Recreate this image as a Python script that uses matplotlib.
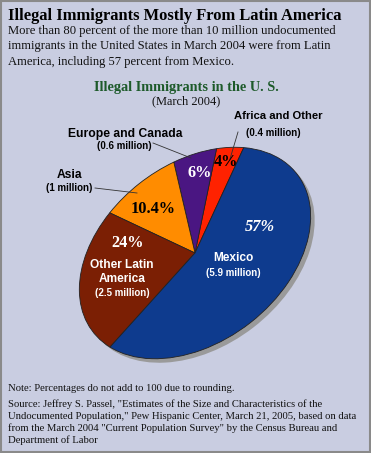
import matplotlib
matplotlib.use('Agg')
import matplotlib.pyplot as plt
from matplotlib.transforms import Affine2D
from matplotlib.patches import Ellipse, Rectangle

# data (counterclockwise from the Africa/Mexico boundary)
regions = ['Africa and Other', 'Europe and Canada', 'Asia', 'Other Latin America', 'Mexico']
shares = [4, 6, 10.4, 24, 57]
millions = ['0.4 million', '0.6 million', '1 million', '2.5 million', '5.9 million']
pct_labels = ['4%', '6%', '10.4%', '24%', '57%']
colors = ['#ff2200', '#4a1682', '#ff8c00', '#7b1f04', '#0e3b8e']

W, H = 371, 453
bg = '#c9cde1'

fig = plt.figure(figsize=(W / 100, H / 100), dpi=100, facecolor=bg)
ax = fig.add_axes([0, 0, 1, 1])

# pie drawn on the unit circle, then squashed and tilted into an ellipse
cx, cy = 195, H - 253
a, b, tilt = 129, 89, 37.7
wedges, _ = ax.pie(shares, colors=colors, startangle=37, counterclock=True,
                   wedgeprops=dict(linewidth=0.6, edgecolor='#222222'))
ax.set_xlim(0, W)
ax.set_ylim(0, H)
ax.set_aspect('auto')
ax.axis('off')
ax.set_facecolor(bg)

for w in wedges:
    shape = Affine2D().scale(a, b).rotate_deg(tilt).translate(cx, cy)
    w.set_transform(shape + ax.transData)
    w.set_zorder(3)

shadow = Ellipse((cx + 4, cy - 4), 2 * a, 2 * b, angle=tilt,
                 facecolor='#9a9a9a', edgecolor='none', zorder=2)
ax.add_patch(shadow)

# border
ax.add_patch(Rectangle((0.75, 0.75), W - 1.5, H - 1.5, fill=False,
                       edgecolor='#8a8a8a', linewidth=1.5, zorder=10))

serif = 'Liberation Serif'
sans = 'Liberation Sans'

def Y(y):
    return H - y

ax.text(8, Y(20), 'Illegal Immigrants Mostly From Latin America', family=serif,
        fontweight='bold', fontsize=11.9, va='baseline', color='black')
body = ['More than 80 percent of the more than 10 million undocumented',
        'immigrants in the United States in March 2004 were from Latin',
        'America, including 57 percent from Mexico.']
for i, line in enumerate(body):
    ax.text(8, Y(34 + 15.5 * i), line, family=serif, fontsize=9.05, va='baseline', color='#111111')

ax.text(186, Y(88), 'Illegal Immigrants in the U. S.', family=serif, fontweight='bold',
        fontsize=10.3, ha='center', va='center', color='#1d5a2a')
ax.text(186, Y(101), '(March 2004)', family=serif, fontsize=8.9, ha='center', va='center',
        color='#111111')

# outside labels
ax.text(278, Y(116), regions[0], family=sans, fontweight='bold', fontsize=8.1,
        ha='center', va='center')
ax.text(273, Y(133), '(' + millions[0] + ')', family=sans, fontweight='bold', fontsize=7,
        ha='center', va='center')
ax.text(125, Y(134), regions[1], family=sans, fontweight='bold', fontsize=8.7,
        ha='center', va='center')
ax.text(124, Y(146), '(' + millions[1] + ')', family=sans, fontweight='bold', fontsize=7,
        ha='center', va='center')
ax.text(70, Y(175), regions[2], family=sans, fontweight='bold', fontsize=8.7,
        ha='center', va='center')
ax.text(69, Y(188), '(' + millions[2] + ')', family=sans, fontweight='bold', fontsize=7,
        ha='center', va='center')

# leader lines
ax.plot([238, 230], [Y(132), Y(159)], color='#333333', lw=0.6, zorder=4)
ax.plot([153, 191], [Y(143), Y(158)], color='#333333', lw=0.6, zorder=4)
ax.plot([95, 137], [Y(188), Y(193)], color='#333333', lw=0.6, zorder=4)

# percent labels on slices
pct_pos = [(226, 162), (200, 173), (153, 209), (128, 243), (260, 227)]
pct_col = ['black', 'white', 'black', 'white', 'white']
for (px, py), t, c in zip(pct_pos, pct_labels, pct_col):
    ax.text(px, Y(py), t, family=serif, fontweight='bold', fontsize=11.8, ha='center',
            va='center', color=c, zorder=5,
            fontstyle='italic' if t == '57%' else 'normal')

ax.text(122, Y(265), 'Other Latin', family=sans, fontweight='bold', fontsize=8.6,
        ha='center', va='center', color='white', zorder=5)
ax.text(122, Y(279), 'America', family=sans, fontweight='bold', fontsize=8.6,
        ha='center', va='center', color='white', zorder=5)
ax.text(122, Y(293), '(' + millions[3] + ')', family=sans, fontweight='bold', fontsize=7,
        ha='center', va='center', color='white', zorder=5)
ax.text(233, Y(258), regions[4], family=sans, fontweight='bold', fontsize=8.6,
        ha='center', va='center', color='white', zorder=5)
ax.text(233, Y(273), '(' + millions[4] + ')', family=sans, fontweight='bold', fontsize=7,
        ha='center', va='center', color='white', zorder=5)

# notes
ax.text(8, Y(391), 'Note: Percentages do not add to 100 due to rounding.', family=serif,
        fontsize=7.7, va='baseline', color='#111111')
src = ['Source: Jeffrey S. Passel, "Estimates of the Size and Characteristics of the',
       'Undocumented Population," Pew Hispanic Center, March 21, 2005, based on data',
       'from the March 2004 "Current Population Survey" by the Census Bureau and',
       'Department of Labor']
for i, line in enumerate(src):
    ax.text(8, Y(407 + 12 * i), line, family=serif, fontsize=7.7, va='baseline',
            color='#111111')

fig.savefig('out.png', dpi=100, facecolor=bg)
